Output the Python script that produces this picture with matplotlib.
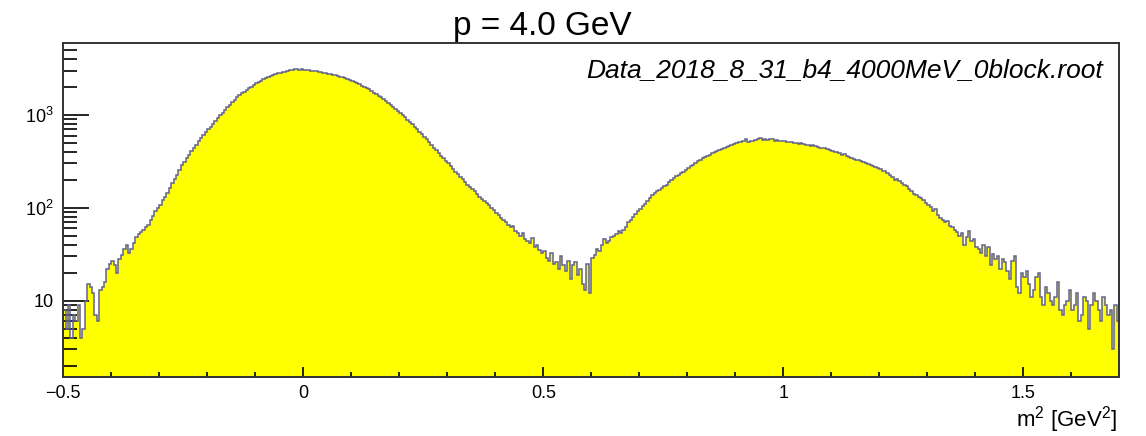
import numpy as np
import matplotlib
matplotlib.use("Agg")
import matplotlib.pyplot as plt
from matplotlib.ticker import FixedLocator, FixedFormatter

# histogram: 440 bins of 0.005 GeV^2 from -0.5 to 1.7
bin_lo = -0.5
bin_hi = 1.7
counts = [
    8, 5, 9, 4, 7, 6, 9, 4, 5, 10,                                   # -0.50
    15, 14, 12, 7, 6, 13, 14, 16, 22, 25,                            # -0.45
    27, 24, 20, 28, 31, 36, 40, 33, 36, 42,                          # -0.40
    48, 52, 55, 58, 62, 66, 74, 82, 92, 100,                         # -0.35
    108, 120, 132, 145, 165, 185, 205, 225, 255, 290,                # -0.30
    315, 340, 370, 405, 440, 480, 520, 560, 610, 660,                # -0.25
    700, 750, 800, 860, 920, 990, 1060, 1130, 1210, 1290,            # -0.20
    1380, 1460, 1550, 1620, 1700, 1780, 1860, 1940, 2020, 2110,      # -0.15
    2190, 2270, 2340, 2420, 2500, 2560, 2640, 2700, 2750, 2800,      # -0.10
    2850, 2890, 2930, 2990, 3020, 3050, 3090, 3110, 3080, 3100,      # -0.05
    3060, 3040, 3010, 2990, 2960, 2940, 2910, 2880, 2850, 2820,      # 0.00
    2790, 2760, 2720, 2690, 2640, 2590, 2540, 2490, 2430, 2370,      # 0.05
    2310, 2250, 2190, 2130, 2060, 2000, 1940, 1880, 1810, 1740,      # 0.10
    1670, 1610, 1540, 1480, 1410, 1350, 1290, 1230, 1160, 1100,      # 0.15
    1050, 990, 940, 890, 840, 790, 745, 700, 660, 620,               # 0.20
    580, 545, 510, 475, 445, 415, 390, 365, 340, 320,                # 0.25
    300, 280, 262, 245, 230, 215, 205, 190, 178, 168,                # 0.30
    158, 150, 140, 132, 125, 118, 112, 106, 100, 95,                 # 0.35
    88, 84, 78, 74, 70, 66, 62, 63, 56, 53,                          # 0.40
    50, 54, 46, 44, 42, 47, 38, 40, 35, 33,                          # 0.45
    34, 29, 27, 33, 25, 26, 22, 30, 24, 21,                          # 0.50
    27, 17, 24, 26, 19, 22, 15, 13, 25, 12,                          # 0.55
    29, 31, 36, 34, 40, 46, 42, 44, 48, 50,                          # 0.60
    52, 56, 54, 58, 62, 70, 74, 80, 86, 92,                          # 0.65
    98, 104, 110, 118, 128, 136, 145, 150, 155, 162,                 # 0.70
    170, 178, 188, 198, 210, 218, 226, 235, 245, 258,                # 0.75
    268, 280, 292, 305, 318, 328, 340, 352, 360, 372,                # 0.80
    390, 398, 410, 418, 430, 440, 455, 462, 478, 488,                # 0.85
    495, 505, 512, 520, 545, 515, 530, 525, 535, 548,                # 0.90
    560, 540, 550, 535, 545, 552, 530, 538, 528, 522,                # 0.95
    518, 510, 505, 512, 500, 496, 490, 495, 485, 478,                # 1.00
    472, 466, 478, 460, 455, 445, 438, 442, 425, 418,                # 1.05
    410, 402, 396, 388, 372, 380, 360, 352, 345, 336,                # 1.10
    330, 325, 318, 312, 302, 296, 290, 282, 276, 268,                # 1.15
    262, 252, 246, 236, 225, 212, 200, 206, 192, 184,                # 1.20
    176, 170, 160, 150, 142, 138, 130, 126, 120, 114,                # 1.25
    108, 102, 92, 96, 84, 78, 74, 70, 72, 64,                        # 1.30
    62, 58, 55, 50, 54, 40, 48, 56, 44, 46,                          # 1.35
    38, 36, 33, 40, 30, 38, 24, 32, 28, 30,                          # 1.40
    22, 28, 26, 21, 17, 27, 30, 14, 12, 20,                          # 1.45
    18, 21, 15, 11, 13, 18, 20, 11, 9, 14,                           # 1.50
    12, 10, 9, 11, 16, 8, 7, 9, 10, 13,                              # 1.55
    8, 9, 12, 6, 7, 11, 10, 5, 9, 12,                                # 1.60
    10, 8, 6, 11, 9, 7, 8, 3, 9, 6,                                  # 1.65
]
edges = np.linspace(bin_lo, bin_hi, len(counts) + 1)

x_major = [-0.5, 0, 0.5, 1, 1.5]
x_labels = ["\u22120.5", "0", "0.5", "1", "1.5"]
y_major = [10, 100, 1000]
y_labels = ["10", "$10^{2}$", "$10^{3}$"]

plt.rcParams['font.family'] = ['Liberation Sans', 'DejaVu Sans']
plt.rcParams['mathtext.fontset'] = 'custom'
plt.rcParams['mathtext.rm'] = 'Liberation Sans'

fig = plt.figure(figsize=(11.46, 4.36), dpi=100)
ax = fig.add_axes([0.0552, 0.136, 0.9215, 0.7647])

ax.stairs(counts, edges, baseline=1e-3, fill=True, color='#ffff00', zorder=1)
ax.stairs(counts, edges, baseline=1e-3, color='#62628f', lw=1.1, zorder=2)

ax.set_yscale('log')
ax.set_xlim(bin_lo, bin_hi)
ax.set_ylim(1.52, 5900)

# x ticks
ax.xaxis.set_major_locator(FixedLocator(x_major))
ax.xaxis.set_major_formatter(FixedFormatter(x_labels))
ax.xaxis.set_minor_locator(FixedLocator(np.arange(-0.5, 1.71, 0.1)))
ax.tick_params(axis='x', which='major', direction='in', length=7, width=1.2,
               labelsize=13, pad=6, top=False)
ax.tick_params(axis='x', which='minor', direction='in', length=3.8, width=1.2, top=False)

# y ticks
ax.yaxis.set_major_locator(FixedLocator(y_major))
ax.yaxis.set_major_formatter(FixedFormatter(y_labels))
minor_y = [m * 10 ** e for e in range(0, 4) for m in range(2, 10)]
ax.yaxis.set_minor_locator(FixedLocator(minor_y))
ax.yaxis.set_minor_formatter(FixedFormatter([]))
ax.tick_params(axis='y', which='major', direction='in', length=19, width=1.2,
               labelsize=13, pad=7, right=False)
ax.tick_params(axis='y', which='minor', direction='in', length=10, width=1.2, right=False)

for s in ax.spines.values():
    s.set_linewidth(1.4)
    s.set_color('#333333')

fig.text(542 / 1146, 1 - 35 / 436, "p = 4.0 GeV", ha='center', va='baseline', fontsize=24)
fig.text(1103 / 1146, 1 - 77 / 436, "Data_2018_8_31_b4_4000MeV_0block.root",
         ha='right', va='baseline', fontsize=19, style='italic')
fig.text(1117 / 1146, 1 - 426 / 436, "m$^{2}$ [GeV$^{2}$]", ha='right', va='baseline', fontsize=16)

fig.savefig('out.png', dpi=100)
